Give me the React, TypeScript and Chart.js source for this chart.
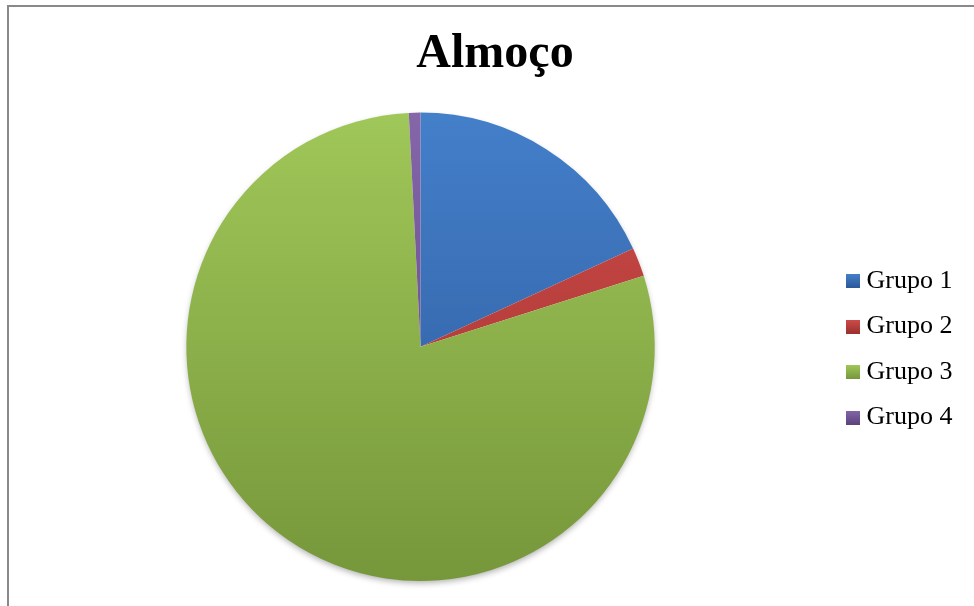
import React, { useEffect, useRef } from 'react';
import { Chart, registerables } from 'chart.js';

Chart.register(...registerables);

const chartTitle = 'Almoço';
const categories = ['Grupo 1', 'Grupo 2', 'Grupo 3', 'Grupo 4'];
const values = [18.1, 2.0, 79.1, 0.8];
const topColors = ['#447fca', '#cf4c49', '#a0c759', '#8466a9'];
const bottomColors = ['#2b5898', '#9c302e', '#76973a', '#5c437e'];

const CANVAS_W = 982;
const CANVAS_H = 606;

function makeSwatch(top: string, bottom: string): HTMLCanvasElement {
  const c = document.createElement('canvas');
  c.width = 14;
  c.height = 14;
  const g = c.getContext('2d')!;
  const grad = g.createLinearGradient(0, 0, 0, 14);
  grad.addColorStop(0, top);
  grad.addColorStop(1, bottom);
  g.fillStyle = grad;
  g.fillRect(0, 0, 14, 14);
  return c;
}

const framePlugin = {
  id: 'frame',
  beforeDraw(chart: any) {
    const ctx = chart.ctx;
    ctx.save();
    ctx.fillStyle = '#ffffff';
    ctx.fillRect(0, 0, chart.width, chart.height);
    ctx.fillStyle = '#898989';
    ctx.fillRect(7, 5, chart.width, 2);
    ctx.fillRect(7, 5, 2, chart.height);
    ctx.restore();
  },
};

const shadowPlugin = {
  id: 'pieShadow',
  beforeDatasetsDraw(chart: any) {
    const arc = chart.getDatasetMeta(0).data[0];
    if (!arc) return;
    const { x, y, outerRadius } = arc.getProps(['x', 'y', 'outerRadius'], true);
    const ctx = chart.ctx;
    ctx.save();
    ctx.shadowColor = 'rgba(0,0,0,0.32)';
    ctx.shadowBlur = 6;
    ctx.shadowOffsetY = 3;
    ctx.beginPath();
    ctx.arc(x, y, outerRadius - 1, 0, Math.PI * 2);
    ctx.fillStyle = '#ffffff';
    ctx.fill();
    ctx.restore();
  },
};

export default function App() {
  const canvasRef = useRef<HTMLCanvasElement | null>(null);

  useEffect(() => {
    const canvas = canvasRef.current;
    if (!canvas) return;
    const swatches = categories.map((_, i) => makeSwatch(topColors[i], bottomColors[i]));

    const chart = new Chart(canvas, {
      type: 'pie',
      data: {
        labels: categories,
        datasets: [
          {
            data: values,
            borderWidth: 0,
            backgroundColor: (ctx: any) => {
              const i = ctx.dataIndex ?? 0;
              const area = ctx.chart.chartArea;
              if (!area) return topColors[i];
              const grad = ctx.chart.ctx.createLinearGradient(0, area.top, 0, area.bottom);
              grad.addColorStop(0, topColors[i]);
              grad.addColorStop(1, bottomColors[i]);
              return grad;
            },
          },
        ],
      },
      options: {
        responsive: false,
        animation: false,
        devicePixelRatio: 1,
        layout: { padding: { left: 8, right: 0, top: 0, bottom: 25 } },
        plugins: {
          title: {
            display: true,
            text: chartTitle,
            color: '#000000',
            font: { family: 'Liberation Serif', size: 48, weight: 'bold', lineHeight: 1.2 },
            padding: { top: 26, bottom: 29 },
          },
          legend: {
            position: 'right',
            fullSize: false,
            align: 'center',
            title: {
              display: true,
              text: ' ',
              font: { family: 'Liberation Serif', size: 5, lineHeight: 1 },
              padding: 0,
            },
            labels: {
              usePointStyle: true,
              boxWidth: 1,
              boxHeight: 14,
              padding: 19.5,
              color: '#000000',
              font: { family: 'Liberation Serif', size: 26 },
              generateLabels: (chart: any) =>
                categories.map((c, i) => ({
                  text: c + '\u00a0\u00a0\u00a0',
                  pointStyle: swatches[i],
                  fillStyle: topColors[i],
                  strokeStyle: 'rgba(0,0,0,0)',
                  lineWidth: 0,
                  fontColor: '#000000',
                  hidden: !chart.getDataVisibility(i),
                  index: i,
                })),
            },
          },
          tooltip: { enabled: false },
        },
      } as any,
      plugins: [framePlugin, shadowPlugin],
    });

    return () => chart.destroy();
  }, []);

  return (
    <div
      style={{
        position: 'fixed',
        left: 0,
        top: 0,
        width: 974,
        height: 606,
        overflow: 'hidden',
        background: '#ffffff',
      }}
    >
      <canvas
        ref={canvasRef}
        width={CANVAS_W}
        height={CANVAS_H}
        style={{ display: 'block', width: CANVAS_W, height: CANVAS_H }}
      />
    </div>
  );
}
